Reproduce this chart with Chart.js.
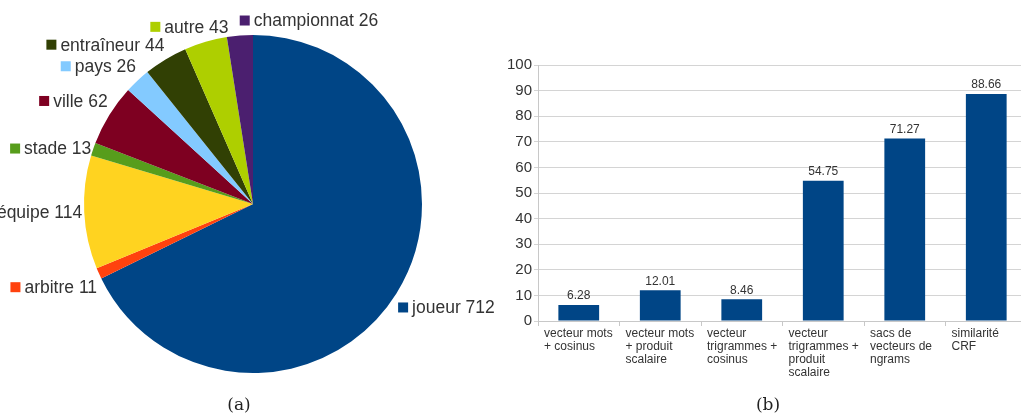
<!DOCTYPE html>
<html>
<head>
<meta charset="utf-8">
<script src="https://cdn.jsdelivr.net/npm/chart.js@4"></script>
<style>
  html, body { margin: 0; padding: 0; background: #fff; overflow: hidden; width: 1021px; height: 414px; }
  #pieBox { position: absolute; left: 0; top: 0; width: 500px; height: 414px; }
  #barBox { position: absolute; left: 500px; top: 0; width: 530px; height: 414px; }
  .cap { position: absolute; top: 394px; width: 60px; text-align: center; font-family: "DejaVu Serif", serif; font-size: 17px; color: #222; }
</style>
</head>
<body>
<div id="pieBox"><canvas id="pie"></canvas></div>
<div id="barBox"><canvas id="bar"></canvas></div>
<div class="cap" style="left:209px">(a)</div>
<div class="cap" style="left:738px">(b)</div>
<script>
// (a) répartition des entités
const sliceNames = ['joueur', 'arbitre', 'équipe', 'stade', 'ville', 'pays', 'entraîneur', 'autre', 'championnat'];
const sliceValues = [712, 11, 114, 13, 62, 26, 44, 43, 26];
const sliceColors = ['#004586', '#ff420e', '#ffd320', '#579d1c', '#7e0021', '#83caff', '#314004', '#aecf00', '#4b1f6f'];

// (b) scores par méthode
const methods = [
  ['vecteur mots', '+ cosinus'],
  ['vecteur mots', '+ produit', 'scalaire'],
  ['vecteur', 'trigrammes +', 'cosinus'],
  ['vecteur', 'trigrammes +', 'produit', 'scalaire'],
  ['sacs de', 'vecteurs de', 'ngrams'],
  ['similarité', 'CRF']
];
const scores = [6.28, 12.01, 8.46, 54.75, 71.27, 88.66];
const yMin = 0, yMax = 100, yStep = 10;

const FONT = '"Liberation Sans", Arial, sans-serif';
const TEXT = '#333';

// labels outside the pie, placed from each arc's midpoint
const sliceLabels = {
  id: 'sliceLabels',
  afterDatasetsDraw(chart) {
    const ctx = chart.ctx;
    const arcs = chart.getDatasetMeta(0).data;
    ctx.save();
    ctx.font = '17.5px ' + FONT;
    ctx.textBaseline = 'middle';
    arcs.forEach((arc, i) => {
      const mid = (arc.startAngle + arc.endAngle) / 2;
      const r = arc.outerRadius + 2;
      const px = arc.x + r * Math.cos(mid);
      const py = arc.y + r * Math.sin(mid);
      const sx = Math.cos(mid);
      const sy = -Math.sin(mid);
      const text = sliceNames[i] + ' ' + sliceValues[i];
      const w = 14 + ctx.measureText(text).width;
      let left;
      if (sx > -0.15) left = px;
      else if (sx > -0.5) left = px - w * 0.7;
      else left = px - w;
      let cy = py;
      if (sy > 0.4) cy = py - 13;
      else if (sy < -0.35) cy = py + 13;
      ctx.fillStyle = sliceColors[i];
      ctx.fillRect(left, cy - 5, 10, 10);
      ctx.fillStyle = TEXT;
      ctx.fillText(text, left + 14, cy + 1);
    });
    ctx.restore();
  }
};

new Chart(document.getElementById('pie'), {
  type: 'pie',
  data: {
    labels: sliceNames,
    datasets: [{
      data: sliceValues,
      backgroundColor: sliceColors,
      borderWidth: 0,
      hoverOffset: 0
    }]
  },
  options: {
    responsive: true,
    maintainAspectRatio: false,
    animation: false,
    events: [],
    layout: { padding: { left: 84, right: 78, top: 35, bottom: 41 } },
    plugins: { legend: { display: false }, tooltip: { enabled: false } }
  },
  plugins: [sliceLabels]
});

// value on top of each bar + multi-line category names
const barText = {
  id: 'barText',
  afterDatasetsDraw(chart) {
    const ctx = chart.ctx;
    const x = chart.scales.x;
    const bars = chart.getDatasetMeta(0).data;
    ctx.save();
    ctx.fillStyle = TEXT;
    ctx.font = '12px ' + FONT;
    ctx.textAlign = 'center';
    ctx.textBaseline = 'middle';
    bars.forEach((b, i) => ctx.fillText(scores[i].toFixed(2), b.x, b.y - 9));
    ctx.textAlign = 'left';
    const step = x.width / methods.length;
    methods.forEach((lines, i) => {
      const left = x.getPixelForValue(i) - step / 2 + 6;
      lines.forEach((t, j) => ctx.fillText(t, left, x.top + 13 + j * 13));
    });
    ctx.restore();
  }
};

new Chart(document.getElementById('bar'), {
  type: 'bar',
  data: {
    labels: methods.map(l => l.join(' ')),
    datasets: [{
      data: scores,
      backgroundColor: '#004586',
      borderWidth: 0,
      categoryPercentage: 1,
      barPercentage: 0.5
    }]
  },
  options: {
    responsive: true,
    maintainAspectRatio: false,
    animation: false,
    events: [],
    layout: { padding: { top: 65, right: 3, left: 0, bottom: 0 } },
    plugins: { legend: { display: false }, tooltip: { enabled: false } },
    scales: {
      x: {
        grid: { offset: true, drawOnChartArea: false, color: '#c8c8c8', tickLength: 5 },
        border: { color: '#c8c8c8' },
        ticks: { display: false },
        afterFit(s) { s.height = 93; }
      },
      y: {
        min: yMin,
        max: yMax,
        ticks: { stepSize: yStep, color: TEXT, font: { family: FONT, size: 15 }, padding: 2 },
        grid: { color: '#d4d4d4', tickLength: 4 },
        border: { color: '#c8c8c8' },
        afterFit(s) { s.width = 38; }
      }
    }
  },
  plugins: [barText]
});
</script>
</body>
</html>
